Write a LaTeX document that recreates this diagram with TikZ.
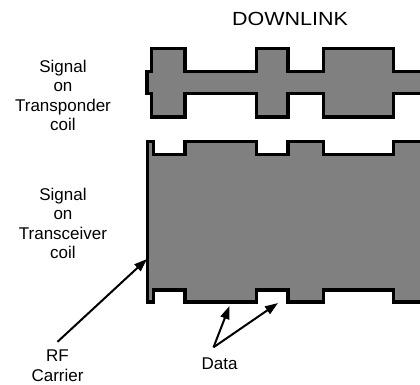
\documentclass[tikz,border=0pt]{standalone}
\usepackage{fontspec}
\setmainfont{Liberation Sans}
\usetikzlibrary{arrows.meta}
\begin{document}
\begin{tikzpicture}[x=1pt,y=-1pt,
  wave/.style={draw=black,fill=gray,line width=3.5pt,line join=miter},
  lbl/.style={align=center,inner sep=0pt,anchor=north,font=\fontsize{17}{19.5}\selectfont},
  arr/.style={line width=2pt,-{Triangle[length=13pt,width=9pt]}}]
\clip (0,0) rectangle (420,384);
\node (title) at (290,18.5) {\fontsize{19}{22}\selectfont\scalebox{1.13}[1]{DOWNLINK}};
\draw[wave] (147,71.5) -- (151.5,71.5) -- (151.5,48.5) -- (185,48.5) -- (185,71.5) -- (256.5,71.5) -- (256.5,48.5) -- (288,48.5) -- (288,71.5) -- (323.5,71.5) -- (323.5,48.5) -- (393.5,48.5) -- (393.5,71.5) -- (430,71.5)
  -- (430,93.5) -- (393.5,93.5) -- (393.5,117) -- (323.5,117) -- (323.5,93.5) -- (288,93.5) -- (288,117) -- (256.5,117) -- (256.5,93.5) -- (185,93.5) -- (185,117) -- (151.5,117) -- (151.5,93.5) -- (147,93.5) -- cycle;
\draw[wave] (147.5,141.5) -- (153.5,141.5) -- (153.5,154.5) -- (185,154.5) -- (185,141.5) -- (256.5,141.5) -- (256.5,154.5) -- (288,154.5) -- (288,141.5) -- (323.5,141.5) -- (323.5,154.5) -- (393.5,154.5) -- (393.5,141.5) -- (430,141.5)
  -- (430,302) -- (393.5,302) -- (393.5,290) -- (323.5,290) -- (323.5,302) -- (288,302) -- (288,290) -- (256.5,290) -- (256.5,302) -- (185,302) -- (185,290) -- (153.5,290) -- (153.5,302) -- (147.5,302) -- cycle;
\node[lbl] (transponder) at (63,59.8) {Signal\\on\\Transponder\\coil};
\node[lbl] (transceiver) at (63,187.8) {Signal\\on\\Transceiver\\coil};
\node[lbl] (rf) at (57.5,349.8) {RF\\Carrier};
\node[lbl] (data) at (219.5,357.3) {Data};
\coordinate (carrier) at (147,259);
\coordinate (bit1) at (229.5,306);
\coordinate (bit2) at (278,303);
\draw[arr] ([yshift=8pt]rf.north) -- (carrier);
\draw[arr] ([xshift=-6pt,yshift=10pt]data.north) -- (bit1);
\draw[arr] ([xshift=-6pt,yshift=10pt]data.north) -- (bit2);
\end{tikzpicture}
\end{document}
